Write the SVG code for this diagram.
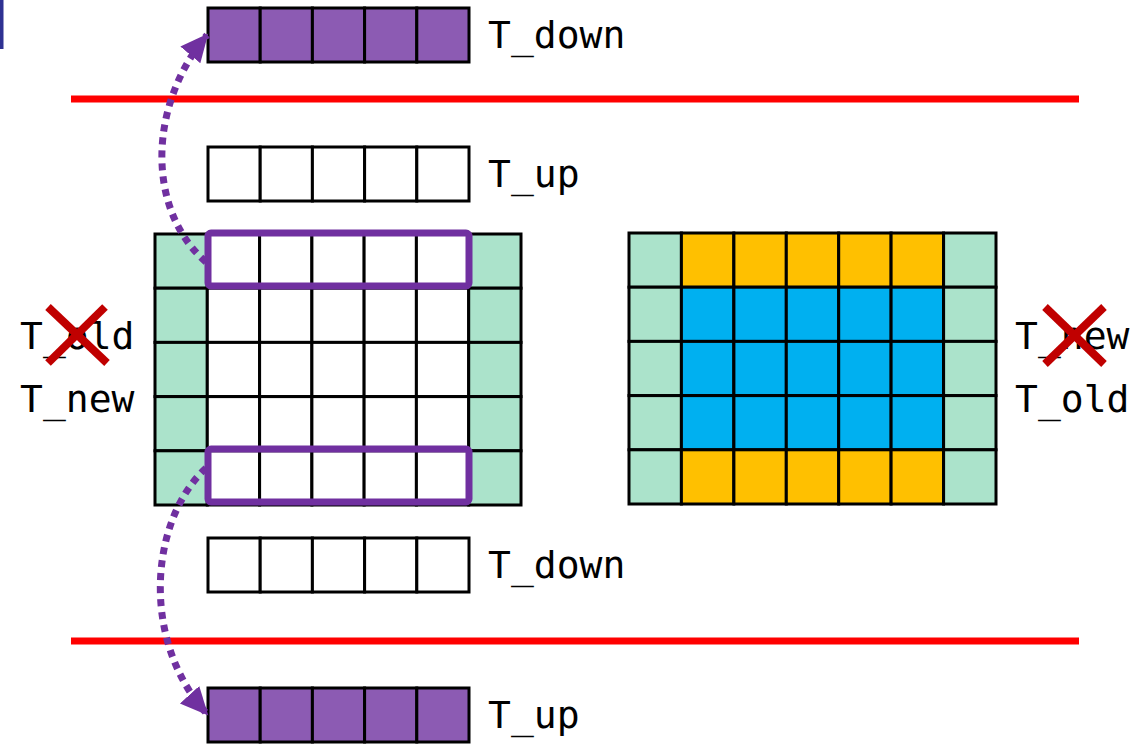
<svg xmlns="http://www.w3.org/2000/svg" width="1135" height="746" viewBox="0 0 1135 746">
<defs>
<style>
.c{stroke:#000;stroke-width:3}
.w{fill:#fff}.m{fill:#ABE3CB}.o{fill:#FFC000}.b{fill:#00B0F0}.p{fill:#8C5BB3}
.t{font-family:"DejaVu Sans Mono","Liberation Mono",monospace;font-size:38px;fill:#000}
.red{stroke:#FF0000;stroke-width:7}
.x{stroke:#C00000;stroke-width:8}
.hl{fill:none;stroke:#7030A0;stroke-width:7}
.arr{fill:none;stroke:#7030A0;stroke-width:7;stroke-dasharray:7 6}
</style>
<marker id="ah" markerUnits="userSpaceOnUse" markerWidth="32" markerHeight="32" refX="26" refY="13" orient="auto">
<path d="M0 0 L28 13 L0 26 Z" fill="#7030A0"/>
</marker>
</defs>
<rect x="0" y="0" width="3.5" height="49" fill="#2E3192"/>
<g id="separators">
<line class="red" x1="71" y1="99" x2="1079" y2="99"/>
<line class="red" x1="71" y1="641" x2="1079" y2="641"/>
</g>
<g id="bar-top-down">
<rect class="c p" x="208" y="8" width="52.2" height="54"/>
<rect class="c p" x="260.2" y="8" width="52.2" height="54"/>
<rect class="c p" x="312.4" y="8" width="52.2" height="54"/>
<rect class="c p" x="364.6" y="8" width="52.2" height="54"/>
<rect class="c p" x="416.8" y="8" width="52.2" height="54"/>
<text class="t" x="488" y="48">T_down</text>
</g>
<g id="bar-up">
<rect class="c w" x="208" y="147" width="52.2" height="54"/>
<rect class="c w" x="260.2" y="147" width="52.2" height="54"/>
<rect class="c w" x="312.4" y="147" width="52.2" height="54"/>
<rect class="c w" x="364.6" y="147" width="52.2" height="54"/>
<rect class="c w" x="416.8" y="147" width="52.2" height="54"/>
<text class="t" x="488" y="187">T_up</text>
</g>
<g id="bar-down">
<rect class="c w" x="208" y="538" width="52.2" height="54"/>
<rect class="c w" x="260.2" y="538" width="52.2" height="54"/>
<rect class="c w" x="312.4" y="538" width="52.2" height="54"/>
<rect class="c w" x="364.6" y="538" width="52.2" height="54"/>
<rect class="c w" x="416.8" y="538" width="52.2" height="54"/>
<text class="t" x="488" y="578">T_down</text>
</g>
<g id="bar-bottom-up">
<rect class="c p" x="208" y="688" width="52.2" height="54"/>
<rect class="c p" x="260.2" y="688" width="52.2" height="54"/>
<rect class="c p" x="312.4" y="688" width="52.2" height="54"/>
<rect class="c p" x="364.6" y="688" width="52.2" height="54"/>
<rect class="c p" x="416.8" y="688" width="52.2" height="54"/>
<text class="t" x="488" y="728">T_up</text>
</g>
<g id="left-grid">
<rect class="c m" x="155" y="234" width="52.3" height="54.2"/><rect class="c w" x="207.3" y="234" width="52.3" height="54.2"/><rect class="c w" x="259.6" y="234" width="52.3" height="54.2"/><rect class="c w" x="311.9" y="234" width="52.3" height="54.2"/><rect class="c w" x="364.1" y="234" width="52.3" height="54.2"/><rect class="c w" x="416.4" y="234" width="52.3" height="54.2"/><rect class="c m" x="468.7" y="234" width="52.3" height="54.2"/>
<rect class="c m" x="155" y="288.2" width="52.3" height="54.2"/><rect class="c w" x="207.3" y="288.2" width="52.3" height="54.2"/><rect class="c w" x="259.6" y="288.2" width="52.3" height="54.2"/><rect class="c w" x="311.9" y="288.2" width="52.3" height="54.2"/><rect class="c w" x="364.1" y="288.2" width="52.3" height="54.2"/><rect class="c w" x="416.4" y="288.2" width="52.3" height="54.2"/><rect class="c m" x="468.7" y="288.2" width="52.3" height="54.2"/>
<rect class="c m" x="155" y="342.4" width="52.3" height="54.2"/><rect class="c w" x="207.3" y="342.4" width="52.3" height="54.2"/><rect class="c w" x="259.6" y="342.4" width="52.3" height="54.2"/><rect class="c w" x="311.9" y="342.4" width="52.3" height="54.2"/><rect class="c w" x="364.1" y="342.4" width="52.3" height="54.2"/><rect class="c w" x="416.4" y="342.4" width="52.3" height="54.2"/><rect class="c m" x="468.7" y="342.4" width="52.3" height="54.2"/>
<rect class="c m" x="155" y="396.6" width="52.3" height="54.2"/><rect class="c w" x="207.3" y="396.6" width="52.3" height="54.2"/><rect class="c w" x="259.6" y="396.6" width="52.3" height="54.2"/><rect class="c w" x="311.9" y="396.6" width="52.3" height="54.2"/><rect class="c w" x="364.1" y="396.6" width="52.3" height="54.2"/><rect class="c w" x="416.4" y="396.6" width="52.3" height="54.2"/><rect class="c m" x="468.7" y="396.6" width="52.3" height="54.2"/>
<rect class="c m" x="155" y="450.8" width="52.3" height="54.2"/><rect class="c w" x="207.3" y="450.8" width="52.3" height="54.2"/><rect class="c w" x="259.6" y="450.8" width="52.3" height="54.2"/><rect class="c w" x="311.9" y="450.8" width="52.3" height="54.2"/><rect class="c w" x="364.1" y="450.8" width="52.3" height="54.2"/><rect class="c w" x="416.4" y="450.8" width="52.3" height="54.2"/><rect class="c m" x="468.7" y="450.8" width="52.3" height="54.2"/>
<rect class="hl" x="208" y="233" width="261" height="53" rx="3"/>
<rect class="hl" x="208" y="449" width="261" height="53" rx="3"/>
</g>
<g id="left-labels">
<text class="t" x="20" y="349">T_old</text>
<text class="t" x="20" y="412">T_new</text>
<line class="x" x1="48" y1="307" x2="107" y2="363"/>
<line class="x" x1="105" y1="307" x2="48" y2="363"/>
</g>
<g id="right-grid">
<rect class="c m" x="629" y="233" width="52.4" height="54.2"/><rect class="c o" x="681.4" y="233" width="52.4" height="54.2"/><rect class="c o" x="733.9" y="233" width="52.4" height="54.2"/><rect class="c o" x="786.3" y="233" width="52.4" height="54.2"/><rect class="c o" x="838.7" y="233" width="52.4" height="54.2"/><rect class="c o" x="891.1" y="233" width="52.4" height="54.2"/><rect class="c m" x="943.6" y="233" width="52.4" height="54.2"/>
<rect class="c m" x="629" y="287.2" width="52.4" height="54.2"/><rect class="c b" x="681.4" y="287.2" width="52.4" height="54.2"/><rect class="c b" x="733.9" y="287.2" width="52.4" height="54.2"/><rect class="c b" x="786.3" y="287.2" width="52.4" height="54.2"/><rect class="c b" x="838.7" y="287.2" width="52.4" height="54.2"/><rect class="c b" x="891.1" y="287.2" width="52.4" height="54.2"/><rect class="c m" x="943.6" y="287.2" width="52.4" height="54.2"/>
<rect class="c m" x="629" y="341.4" width="52.4" height="54.2"/><rect class="c b" x="681.4" y="341.4" width="52.4" height="54.2"/><rect class="c b" x="733.9" y="341.4" width="52.4" height="54.2"/><rect class="c b" x="786.3" y="341.4" width="52.4" height="54.2"/><rect class="c b" x="838.7" y="341.4" width="52.4" height="54.2"/><rect class="c b" x="891.1" y="341.4" width="52.4" height="54.2"/><rect class="c m" x="943.6" y="341.4" width="52.4" height="54.2"/>
<rect class="c m" x="629" y="395.6" width="52.4" height="54.2"/><rect class="c b" x="681.4" y="395.6" width="52.4" height="54.2"/><rect class="c b" x="733.9" y="395.6" width="52.4" height="54.2"/><rect class="c b" x="786.3" y="395.6" width="52.4" height="54.2"/><rect class="c b" x="838.7" y="395.6" width="52.4" height="54.2"/><rect class="c b" x="891.1" y="395.6" width="52.4" height="54.2"/><rect class="c m" x="943.6" y="395.6" width="52.4" height="54.2"/>
<rect class="c m" x="629" y="449.8" width="52.4" height="54.2"/><rect class="c o" x="681.4" y="449.8" width="52.4" height="54.2"/><rect class="c o" x="733.9" y="449.8" width="52.4" height="54.2"/><rect class="c o" x="786.3" y="449.8" width="52.4" height="54.2"/><rect class="c o" x="838.7" y="449.8" width="52.4" height="54.2"/><rect class="c o" x="891.1" y="449.8" width="52.4" height="54.2"/><rect class="c m" x="943.6" y="449.8" width="52.4" height="54.2"/>
</g>
<g id="right-labels">
<text class="t" x="1015" y="349">T_new</text>
<text class="t" x="1015" y="412">T_old</text>
<line class="x" x1="1045" y1="307" x2="1104" y2="364"/>
<line class="x" x1="1104" y1="307" x2="1045" y2="364"/>
</g>
<g id="connectors">
<path class="arr" d="M 206 262 C 148 212, 146 108, 207 35" marker-end="url(#ah)"/>
<path class="arr" d="M 206 468 C 150 520, 140 640, 207 714" marker-end="url(#ah)"/>
</g>
</svg>
